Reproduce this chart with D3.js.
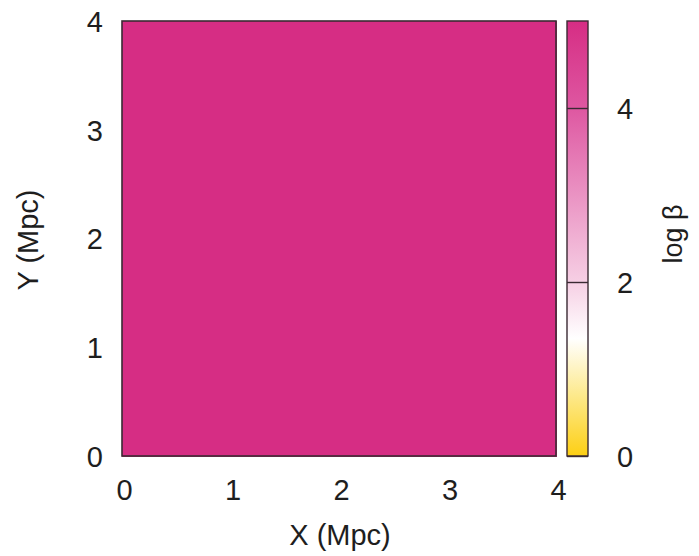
<!DOCTYPE html>
<html>
<head>
<meta charset="utf-8">
<script src="https://cdn.jsdelivr.net/npm/d3@7"></script>
<style>
  html, body { margin: 0; padding: 0; background: #fff; }
  svg text { font-family: "Liberation Sans", Arial, Helvetica, sans-serif; fill: #1e1e1e; }
</style>
</head>
<body>
<svg id="chart" width="699" height="556"></svg>
<script>
// Grid coordinates (Mpc) of the cell centres
const xCells = [0.5, 1.5, 2.5, 3.5];
const yCells = [0.5, 1.5, 2.5, 3.5];
// log beta on the grid (rows follow yCells, columns follow xCells)
const logBeta = [
  [5.0, 5.0, 5.0, 5.0],
  [5.0, 5.0, 5.0, 5.0],
  [5.0, 5.0, 5.0, 5.0],
  [5.0, 5.0, 5.0, 5.0]
];
const xTicks = [0, 1, 2, 3, 4];
const yTicks = [0, 1, 2, 3, 4];
const cbTicks = [0, 2, 4];
// palette stops for log beta
const paletteValues = [0, 0.7, 1.35, 2, 3, 4, 5];
const paletteColors = ["#fdcf14", "#fde98c", "#ffffff", "#f6cfe4", "#ea93c3", "#de57a1", "#d62d84"];

const svg = d3.select("#chart");
const plotL = 122, plotR = 556, plotT = 21, plotB = 456;
const fontSize = "29px";

const x = d3.scaleLinear().domain([0, 4]).range([plotL, plotR]);
const y = d3.scaleLinear().domain([0, 4]).range([plotB, plotT]);
const color = d3.scaleLinear().domain(paletteValues).range(paletteColors).clamp(true);

// heat map cells
const cells = [];
logBeta.forEach((row, j) => row.forEach((v, i) => cells.push({ cx: xCells[i], cy: yCells[j], v })));
svg.append("g").attr("shape-rendering", "crispEdges")
  .selectAll("rect").data(cells).join("rect")
  .attr("x", d => x(d.cx - 0.5))
  .attr("y", d => y(d.cy + 0.5))
  .attr("width", d => x(d.cx + 0.5) - x(d.cx - 0.5) + 1)
  .attr("height", d => y(d.cy - 0.5) - y(d.cy + 0.5) + 1)
  .attr("fill", d => color(d.v));

// plot frame
svg.append("rect").attr("x", plotL).attr("y", plotT)
  .attr("width", plotR - plotL).attr("height", plotB - plotT)
  .attr("fill", "none").attr("stroke", "#3a2a33").attr("stroke-width", 1.6);

// axis labels
const xAxis = d3.axisBottom(x).tickValues(xTicks).tickSize(0).tickPadding(23).tickFormat(d3.format("d"));
const gx = svg.append("g").attr("transform", `translate(2,${plotB})`).call(xAxis);
gx.select(".domain").remove();
gx.selectAll("text").style("font-size", fontSize).attr("fill", "#1e1e1e");

const yAxis = d3.axisLeft(y).tickValues(yTicks).tickSize(0).tickPadding(19).tickFormat(d3.format("d"));
const gy = svg.append("g").attr("transform", `translate(${plotL},0)`).call(yAxis);
gy.select(".domain").remove();
gy.selectAll("text").style("font-size", fontSize).attr("fill", "#1e1e1e").attr("dy", "0.36em");

svg.append("text").attr("x", 340).attr("y", 545)
  .attr("text-anchor", "middle").style("font-size", fontSize).text("X (Mpc)");
svg.append("text").attr("transform", `translate(38,240) rotate(-90)`)
  .attr("text-anchor", "middle").style("font-size", fontSize).text("Y (Mpc)");

// colour bar
const cbX = 567, cbW = 21;
const cb = d3.scaleLinear().domain([0, 5]).range([plotB, plotT]);
const defs = svg.append("defs");
const grad = defs.append("linearGradient").attr("id", "cbgrad")
  .attr("x1", 0).attr("y1", 1).attr("x2", 0).attr("y2", 0);
paletteValues.forEach((v, i) => grad.append("stop")
  .attr("offset", v / 5).attr("stop-color", paletteColors[i]));
svg.append("rect").attr("x", cbX).attr("y", plotT).attr("width", cbW).attr("height", plotB - plotT)
  .attr("fill", "url(#cbgrad)").attr("stroke", "#3a2a33").attr("stroke-width", 1.4);

const cbAxis = d3.axisRight(cb).tickValues(cbTicks).tickSize(cbW).tickPadding(29).tickFormat(d3.format("d"));
const gc = svg.append("g").attr("transform", `translate(${cbX},0)`).call(cbAxis);
gc.select(".domain").remove();
gc.selectAll(".tick line").attr("stroke", "#3a2a33").attr("stroke-width", 1.4);
gc.selectAll("text").style("font-size", fontSize).attr("fill", "#1e1e1e").attr("dy", "0.36em");

svg.append("text").attr("transform", `translate(682,234) rotate(-90)`)
  .attr("text-anchor", "middle").style("font-size", "27px").text("log β");
</script>
</body>
</html>
